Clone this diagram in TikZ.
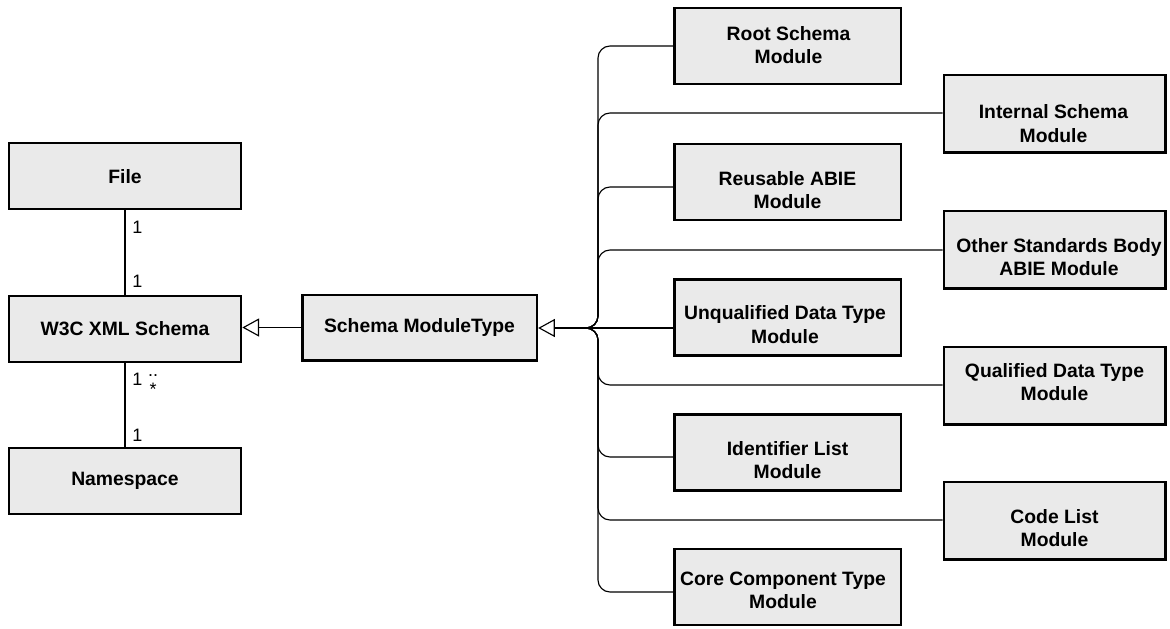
\documentclass[tikz,border=0pt]{standalone}
\usepackage{fontspec}
\setmainfont{Liberation Sans}
\usetikzlibrary{arrows.meta,calc}
\definecolor{boxfill}{RGB}{234,234,234}
\begin{document}
\begin{tikzpicture}[x=0.75pt,y=-0.75pt,
  box/.style={draw=black, line width=2pt, fill=boxfill, inner sep=0pt},
  lbox/.style={box, minimum width=174pt, minimum height=49.5pt},
  mbox/.style={box, minimum width=176pt, minimum height=49pt},
  cbox/.style={box, minimum width=170pt, minimum height=57pt},
  rbox/.style={box, minimum width=166pt, minimum height=58pt},
  txt/.style={font=\bfseries\fontsize{14.5}{17.5}\selectfont, align=center, inner sep=0pt},
  mult/.style={font=\fontsize{13.5}{15}\selectfont, inner sep=0pt},
  conn/.style={draw=black, line width=0.85pt},
  branch/.style={conn, rounded corners=9pt},
  gen/.style={conn, -{Triangle[open, length=12.5pt, width=13.5pt, line width=0.85pt]}}]
\useasboundingbox (0,0) rectangle (1170,628);
\newcommand{\umlbox}[6]{%
  \node[#1] (#2) at (#3) {};
  \node[txt] (#2-t) at ($(#2.center)+(#4,#5)$) {#6};}

% left column
\umlbox{lbox}{File}{125,176}{0}{1}{File}
\umlbox{lbox}{W3C}{125,329}{0}{0}{W3C XML Schema}
\umlbox{lbox}{NS}{125,481}{0}{0}{Namespace}
\umlbox{mbox}{SMT}{419.5,327.5}{0}{0}{Schema ModuleType}

% middle column
\umlbox{cbox}{Root}{787.5,46}{1}{-1}{Root Schema\\Module}
\umlbox{cbox}{Reuse}{787.5,182}{0}{8}{Reusable ABIE\\Module}
\umlbox{cbox}{Unq}{787.5,317.5}{-2.5}{7}{Unqualified Data Type\\Module}
\umlbox{cbox}{Ident}{787.5,452.5}{0}{7.5}{Identifier List\\Module}
\umlbox{cbox}{Core}{787.5,587}{-4.5}{3.5}{Core Component Type\\Module}

% right column
\umlbox{rbox}{Int}{1054.5,113.5}{-1}{10}{Internal Schema\\Module}
\umlbox{rbox}{Other}{1054.5,249.5}{4.5}{7.5}{Other Standards Body\\ABIE Module}
\umlbox{rbox}{Qual}{1054.5,385.5}{0}{-3.5}{Qualified Data Type\\Module}
\umlbox{rbox}{Code}{1054.5,520.5}{0}{7.5}{Code List\\Module}

% junction
\coordinate (J) at (585,328);
\coordinate (T) at (598,328);

% branches
\draw[branch] (Root.west) -| (T) -- (J);
\draw[branch] ($(Int.west)+(0,-0.5)$) -| (T) -- (J);
\draw[branch] ($(Reuse.west)+(0,5)$) -| (T) -- (J);
\draw[branch] ($(Other.west)+(0,0.5)$) -| (T) -- (J);
\draw[conn] ($(Unq.west)+(0,10.5)$) -- (J);
\draw[branch] ($(Qual.west)+(0,-0.5)$) -| (T) -- (J);
\draw[branch] ($(Ident.west)+(0,4.5)$) -| (T) -- (J);
\draw[branch] ($(Code.west)+(0,-0.5)$) -| (T) -- (J);
\draw[branch] ($(Core.west)+(0,5)$) -| (T) -- (J);

% generalizations
\draw[line width=1.8pt] (J) -- ($(SMT.east)+(17,0.5)$);
\draw[gen] (J) -- (SMT.east |- J);
\draw[gen] (SMT.west) -- (SMT.west -| W3C.east);

% associations
\draw[conn] (File.south) -- (W3C.north);
\draw[conn] (W3C.south) -- (NS.north);

\node[mult, anchor=base west] (m1) at (132,233) {1};
\node[mult, anchor=base west] (m2) at (132,287) {1};
\node[mult, anchor=base west] (m3) at (132,385) {1};
\node[mult, anchor=base] (m4) at (153,376) {..};
\node[mult, anchor=base] (m5) at (153,395) {*};
\node[mult, anchor=base west] (m6) at (132,441) {1};
\end{tikzpicture}
\end{document}
